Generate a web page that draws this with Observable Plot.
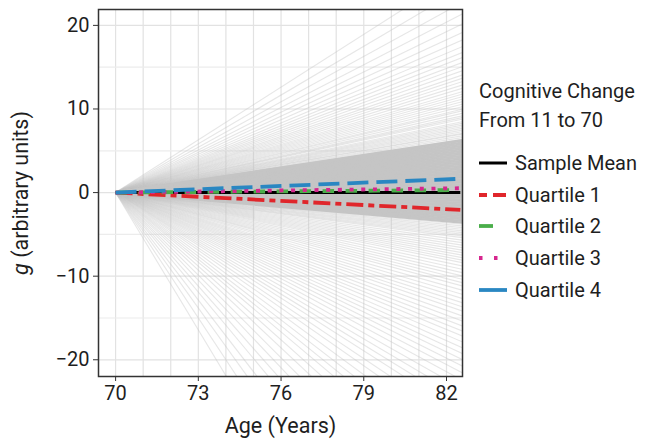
<!DOCTYPE html>
<html>
<head>
<meta charset="utf-8">
<script src="https://cdn.jsdelivr.net/npm/d3@7"></script>
<script src="https://cdn.jsdelivr.net/npm/@observablehq/plot@0.6"></script>
<style>
  html, body { margin: 0; padding: 0; background: #fff; }
  #wrap { position: relative; width: 649px; height: 444px; font-family: Roboto, "Liberation Sans", sans-serif; color: #1e1e1e; }
  #legend { position: absolute; left: 479px; top: 77px; font-size: 20px; }
  #legend .title { line-height: 28.5px; margin-bottom: 13px; }
  #legend .item { display: flex; align-items: center; height: 31.7px; }
  #legend svg { width: 30px; height: 10px; margin-right: 6px; }
</style>
</head>
<body>
<div id="wrap">
  <div id="chart"></div>
  <div id="legend"></div>
</div>
<script>
// ---- data ----
const ageStart = 70;          // baseline age
const ageEnd = 82.6;          // last age shown for individual trajectories
const groupEnd = 82.5;        // last age for group trajectories
const xTicks = [70, 73, 76, 79, 82];
const yTicks = [-20, -10, 0, 10, 20];
const xGrid = [70, 71, 72, 73, 74, 75, 76, 77, 78, 79, 80, 81, 82];
const yGridMajor = [-20, -10, 0, 10, 20];
const yGridMinor = [-15, -5, 5, 15];

// individual trajectories: g value reached at ageEnd (dense central band)
const coreEnds = [-3.6, -3.4, -3.2, -3.0, -2.8, -2.6, -2.4, -2.2, -2.0, -1.8, -1.6, -1.4,
  -1.2, -1.0, -0.8, -0.6, -0.4, -0.2, 0.0, 0.2, 0.4, 0.6, 0.8, 1.0, 1.2, 1.4, 1.6, 1.8,
  2.0, 2.2, 2.4, 2.6, 2.8, 3.0, 3.2, 3.4, 3.6, 3.8, 4.0, 4.2, 4.4, 4.6, 4.8, 5.0, 5.2,
  5.4, 5.6, 5.8, 6.0, 6.2, 6.3];
// individual trajectories: g value reached at ageEnd (outer fan)
const spreadEnds = [6.4, 6.6, 6.8, 7.0, 7.1, 7.3, 7.5, 7.7, 7.9, 8.1, 8.3, 8.5, 8.8, 9.0,
  9.2, 9.5, 9.8, 10.0, 10.3, 10.6, 10.9, 11.2, 11.5, 11.8, 12.1, 12.5, 12.9, 13.3, 13.7,
  14.1, 14.6, 15.1, 15.6, 16.2, 16.8, 17.5, 18.3, 19.2, 20.2, 21.4, 22.8, 24.5, 26.5,
  -3.8, -4.0, -4.2, -4.4, -4.6, -4.8, -5.0, -5.2, -5.4, -5.7, -6.0, -6.3, -6.6, -6.9,
  -7.2, -7.5, -7.8, -8.1, -8.4, -8.8, -9.2, -9.6, -10.0, -10.4, -10.8, -11.2, -11.7,
  -12.2, -12.7, -13.2, -13.7, -14.2, -14.8, -15.4, -16.0, -16.6, -17.2, -17.9, -18.6,
  -19.3, -20.0, -20.8, -21.6, -22.5, -23.5, -24.5, -25.5, -26.5, -27.8, -29.0, -30.5,
  -32.0, -33.5, -35.0, -37.0, -39.0, -41.5, -44.0, -47.0, -50.0, -54.0, -58.0, -63.0, -69.0];

// group trajectories
const groups = ["Sample Mean", "Quartile 1", "Quartile 2", "Quartile 3", "Quartile 4"];
const groupEnds = [0, -2.07, 0.3, 0.52, 1.65];
const groupColors = ["#000000", "#e0262b", "#4aae4a", "#d6268e", "#2a87c2"];
const groupDash = [null, "17,5,6,5", "11.5,11.5", "4,7.7", "21,8"];
const groupWidth = [3, 3.8, 3.8, 3.8, 3.8];
const legendDash = [null, "8,6,13", "14,30", "3.5,11.5", null];

// ---- tables ----
const coreRows = coreEnds.map(g => ({a0: ageStart, g0: 0, a1: ageEnd, g1: g}));
const spreadRows = spreadEnds.map(g => ({a0: ageStart, g0: 0, a1: ageEnd, g1: g}));
const groupRows = groups.map((name, i) => ({name, a0: ageStart, g0: 0, a1: groupEnd, g1: groupEnds[i], i}));

const marks = [
  Plot.ruleX(xGrid, {stroke: "#e2e2e2", strokeWidth: 1.2}),
  Plot.ruleY(yGridMinor, {stroke: "#ececec", strokeWidth: 1.2}),
  Plot.ruleY(yGridMajor, {stroke: "#e2e2e2", strokeWidth: 1.2}),
  Plot.link(spreadRows, {x1: "a0", y1: "g0", x2: "a1", y2: "g1", stroke: "#c4c4c4", strokeOpacity: 0.42, strokeWidth: 1.1, clip: true}),
  Plot.link(coreRows, {x1: "a0", y1: "g0", x2: "a1", y2: "g1", stroke: "#c5c5c5", strokeOpacity: 1, strokeWidth: 2.2, clip: true}),
];
groupRows.forEach(r => {
  marks.push(Plot.link([r], {x1: "a0", y1: "g0", x2: "a1", y2: "g1",
    stroke: groupColors[r.i], strokeWidth: groupWidth[r.i],
    strokeDasharray: groupDash[r.i] || undefined, strokeLinecap: "butt", clip: true}));
});
marks.push(
  Plot.frame({stroke: "#333", strokeWidth: 1.5}),
  Plot.axisX({ticks: xTicks, tickSize: 5, tickPadding: 4, label: "Age (Years)", labelAnchor: "center", labelArrow: false, labelOffset: 56, stroke: "#333"}),
  Plot.axisY({ticks: yTicks, tickSize: 5, tickPadding: 4, label: "g (arbitrary units)", labelAnchor: "center", labelArrow: false, labelOffset: 86, stroke: "#333"})
);

const chart = Plot.plot({
  width: 470,
  height: 444,
  marginLeft: 98,
  marginRight: 8,
  marginTop: 9,
  marginBottom: 68,
  x: {domain: [69.38, 82.58]},
  y: {domain: [-22.0, 21.9]},
  style: {fontFamily: "Roboto, 'Liberation Sans', sans-serif", fontSize: "20px", color: "#1e1e1e", background: "#fff"},
  marks
});
document.getElementById("chart").appendChild(chart);

// axis titles: size, italic g
chart.querySelectorAll("text").forEach(t => {
  if (t.textContent === "g (arbitrary units)") {
    t.innerHTML = '<tspan font-style="italic">g</tspan> (arbitrary units)';
    t.style.fontSize = "21.5px";
  } else if (t.textContent === "Age (Years)") {
    t.style.fontSize = "21.5px";
  }
});

// ---- legend ----
const legend = document.getElementById("legend");
legend.innerHTML = '<div class="title">Cognitive Change<br>From 11 to 70</div>';
groups.forEach((name, i) => {
  const item = document.createElement("div");
  item.className = "item";
  const dash = legendDash[i] ? ` stroke-dasharray="${legendDash[i]}"` : "";
  item.innerHTML = `<svg viewBox="0 0 30 10"><line x1="0" y1="5" x2="28" y2="5" stroke="${groupColors[i]}" stroke-width="${groupWidth[i]}"${dash}/></svg><span>${name}</span>`;
  legend.appendChild(item);
});
</script>
</body>
</html>
